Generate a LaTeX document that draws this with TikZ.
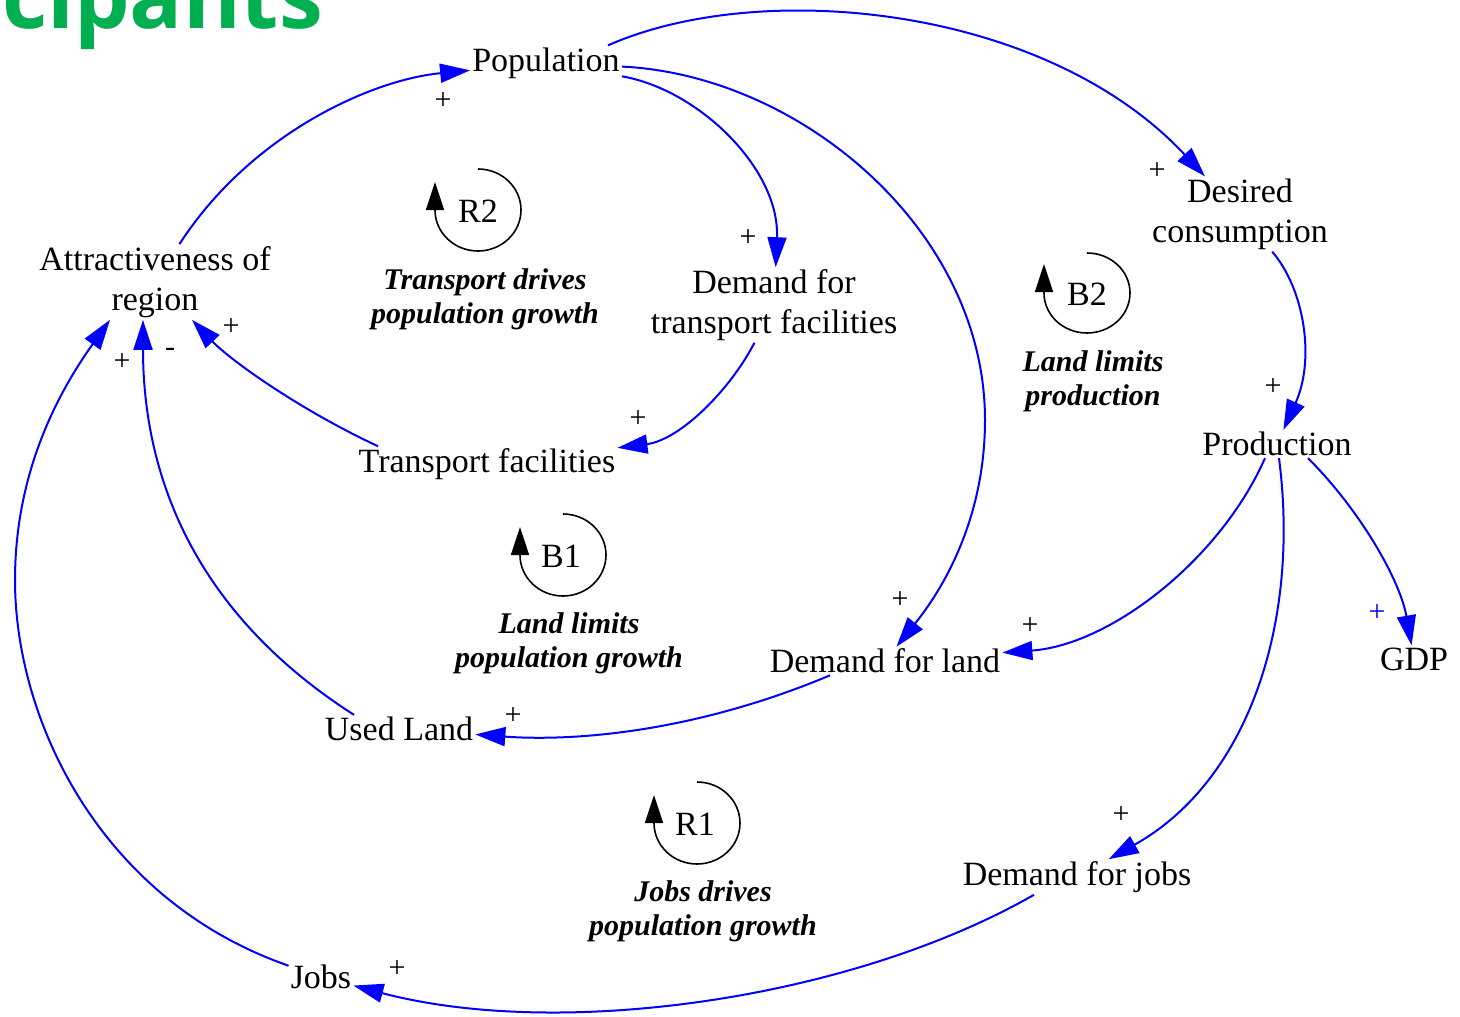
\documentclass[tikz,border=0pt]{standalone}
\usepackage{fontspec}
\setmainfont{Liberation Serif}
\newfontfamily\greenfont{Open Sans}
\usetikzlibrary{arrows.meta}
\definecolor{lnk}{RGB}{0,0,255}
\definecolor{titlegreen}{RGB}{0,176,80}
\begin{document}
\begin{tikzpicture}[x=1pt,y=-1pt,
  var/.style={font=\fontsize{34}{40}\selectfont, align=center, inner sep=2pt},
  lnkarrow/.style={draw=lnk, line width=2pt, -{Triangle[length=30pt,width=19pt]}},
  pol/.style={font=\fontsize{30}{30}\selectfont, inner sep=0pt},
  looplbl/.style={font=\fontsize{30}{34}\selectfont\bfseries\itshape, align=center, inner sep=0pt},
  loopname/.style={font=\fontsize{34}{40}\selectfont, inner sep=0pt},
  loopmark/.style={draw=black, line width=1.6pt, -{Triangle[length=28pt,width=18pt]}},
]
\useasboundingbox (0,0) rectangle (1460,1017);
\clip (0,0) rectangle (1460,1017);

% title fragment
\node[anchor=base west, font=\greenfont\bfseries\fontsize{88}{88}\selectfont, text=titlegreen, inner sep=0pt] (title) at (2,28) {cipants};

% variables
\node[var] (pop) at (546,63) {Population};
\node[var] (desired) at (1240,214) {Desired\\consumption};
\node[var] (attr) at (155,282) {Attractiveness of\\region};
\node[var] (dtrans) at (774,305) {Demand for\\transport facilities};
\node[var] (trans) at (487,464) {Transport facilities};
\node[var] (prod) at (1277,444) {Production};
\node[var] (dland) at (885,661) {Demand for land};
\node[var] (gdp) at (1414,659) {GDP};
\node[var] (used) at (399,729) {Used Land};
\node[var] (djobs) at (1077,877) {Demand for jobs};
\node[var] (jobs) at (321,977) {Jobs};

% links
\draw[lnkarrow] (attr) .. controls (250,135) and (370,80) .. (pop);
\draw[lnkarrow] ([xshift=62pt]pop.north) .. controls (760,-22) and (1045,5) .. (desired);
\draw[lnkarrow] (pop) .. controls (700,90) and (780,170) .. (dtrans);
\draw[lnkarrow] (pop) .. controls (800,75) and (985,230) .. (985,420) .. controls (985,510) and (950,580) .. (dland);
\draw[lnkarrow] (dtrans) .. controls (730,390) and (680,440) .. (trans);
\draw[lnkarrow] ([xshift=-109pt]trans.north) .. controls (300,410) and (230,360) .. ([xshift=37pt]attr.south);
\draw[lnkarrow] (desired) .. controls (1305,290) and (1315,360) .. (prod);
\draw[lnkarrow] ([xshift=-12pt]prod.south) .. controls (1220,560) and (1110,645) .. (dland);
\draw[lnkarrow] ([xshift=31pt]prod.south) .. controls (1360,510) and (1400,580) .. (gdp);
\draw[lnkarrow] ([xshift=2pt]prod.south) .. controls (1300,620) and (1250,780) .. (djobs);
\draw[lnkarrow] ([xshift=-55pt]dland.south) .. controls (700,730) and (580,742) .. (used);
\draw[lnkarrow] ([xshift=-45pt]used.north) .. controls (190,610) and (143,470) .. ([xshift=-12pt]attr.south);
\draw[lnkarrow] (jobs) .. controls (100,900) and (15,720) .. (15,580) .. controls (15,470) and (60,390) .. ([xshift=-45pt]attr.south);
\draw[lnkarrow] ([xshift=-43pt]djobs.south) .. controls (850,1000) and (560,1040) .. (jobs);

% polarities
\node[pol] (p1) at (443,101) {+};
\node[pol] (p2) at (1157,171) {+};
\node[pol] (p3) at (748,238) {+};
\node[pol] (p4) at (231,327) {+};
\node[pol] (p5) at (122,362) {+};
\node[pol] (p6) at (170,352) {-};
\node[pol] (p7) at (638,419) {+};
\node[pol] (p8) at (1273,387) {+};
\node[pol] (p9) at (900,600) {+};
\node[pol] (p10) at (1030,626) {+};
\node[pol, text=lnk] (p11) at (1377,613) {+};
\node[pol] (p12) at (513,716) {+};
\node[pol] (p13) at (1121,815) {+};
\node[pol] (p14) at (397,969) {+};

% loop markers
\draw[loopmark] (478,169) arc[start angle=-90, end angle=180, x radius=43, y radius=41] -- (435,182);
\node[loopname] (r2) at (478,211) {R2};
\node[looplbl] (r2l) at (485,299) {Transport drives\\population growth};

\draw[loopmark] (1087,253) arc[start angle=-90, end angle=180, x radius=43, y radius=40] -- (1044,264);
\node[loopname] (b2) at (1087,294) {B2};
\node[looplbl] (b2l) at (1093,381) {Land limits\\production};

\draw[loopmark] (563,514) arc[start angle=-90, end angle=180, x radius=43, y radius=41] -- (520,527);
\node[loopname] (b1) at (561,556) {B1};
\node[looplbl] (b1l) at (569,643) {Land limits\\population growth};

\draw[loopmark] (697,782) arc[start angle=-90, end angle=180, x radius=43, y radius=41] -- (654,795);
\node[loopname] (r1) at (695,824) {R1};
\node[looplbl] (r1l) at (703,911) {Jobs drives\\population growth};
\end{tikzpicture}
\end{document}
